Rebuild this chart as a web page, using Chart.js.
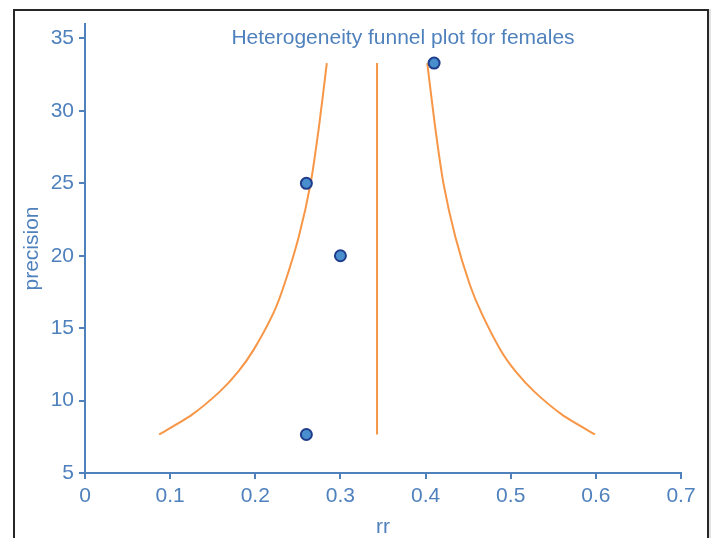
<!DOCTYPE html>
<html>
<head>
<meta charset="utf-8">
<title>Heterogeneity funnel plot for females</title>
<script src="https://cdn.jsdelivr.net/npm/chart.js@4/dist/chart.umd.min.js"></script>
<style>
    html, body { margin: 0; padding: 0; background: #fff; overflow: hidden; }
    #frame {
        position: absolute; left: 13px; top: 9px;
        width: 692px; height: 560px;
        border: 2px solid #262626;
        box-shadow: 2px 0 0 #e2e2e2;
    }
    #wrap { position: absolute; left: 0; top: 0; width: 712px; height: 538px; }
</style>
</head>
<body>
<div id="frame"></div>
<div id="wrap"><canvas id="chart" width="712" height="538"></canvas></div>
<script>
// Funnel-Grenzen
const precisionLevels = [7.66, 9, 10.6, 12, 13.5, 16, 18, 21.3, 25, 29, 33.3];
const lowerBound = [0.087, 0.125, 0.158, 0.180, 0.198, 0.221, 0.234, 0.251, 0.265, 0.275, 0.284];
const upperBound = [0.599, 0.561, 0.528, 0.506, 0.488, 0.466, 0.452, 0.435, 0.421, 0.411, 0.402];
const pooledRr = 0.343;

// Studien
const studyRr = [0.26, 0.30, 0.26, 0.41];
const studyPrecision = [7.66, 20, 25, 33.3];

const xTicks = [0, 0.1, 0.2, 0.3, 0.4, 0.5, 0.6, 0.7];
const yTicks = [5, 10, 15, 20, 25, 30, 35];

const BLUE = '#4f81bd';
const ORANGE = '#f79646';
const FONT = { family: 'Liberation Sans, Arial, sans-serif', size: 21 };

const toPoints = (xs, ys) => xs.map((x, i) => ({ x: x, y: ys[i] }));

const lineStyle = {
    type: 'line',
    showLine: true,
    borderColor: ORANGE,
    borderWidth: 2,
    pointRadius: 0,
    fill: false,
    tension: 0.2,
    order: 1
};

// Titel im Diagramm
const titlePlugin = {
    id: 'innerTitle',
    afterDraw(chart) {
        const ctx = chart.ctx;
        ctx.save();
        ctx.font = `${FONT.size}px ${FONT.family}`;
        ctx.fillStyle = BLUE;
        ctx.textAlign = 'center';
        ctx.textBaseline = 'middle';
        ctx.fillText('Heterogeneity funnel plot for females', 403, 38);
        ctx.restore();
    }
};

new Chart(document.getElementById('chart'), {
    type: 'scatter',
    data: {
        datasets: [
            Object.assign({ label: 'lower', data: toPoints(lowerBound, precisionLevels) }, lineStyle),
            Object.assign({ label: 'upper', data: toPoints(upperBound, precisionLevels) }, lineStyle),
            Object.assign({ label: 'pooled', data: [
                { x: pooledRr, y: precisionLevels[0] },
                { x: pooledRr, y: precisionLevels[precisionLevels.length - 1] }
            ] }, lineStyle),
            {
                label: 'studies',
                data: toPoints(studyRr, studyPrecision),
                backgroundColor: '#4a8fcd',
                borderColor: '#1f3d8c',
                borderWidth: 2,
                pointRadius: 5.5,
                order: 0
            }
        ]
    },
    options: {
        responsive: false,
        animation: false,
        layout: { padding: { left: 0, top: 24, right: 31, bottom: 0 } },
        plugins: { legend: { display: false }, tooltip: { enabled: false } },
        scales: {
            x: {
                type: 'linear',
                min: 0,
                max: 0.7,
                afterBuildTicks: s => { s.ticks = xTicks.map(v => ({ value: v })); },
                afterFit: s => { s.height = 65; },
                border: { color: BLUE, width: 2 },
                grid: { drawOnChartArea: false, drawTicks: true, tickLength: 6, color: BLUE, lineWidth: 2 },
                ticks: { color: BLUE, font: FONT, padding: 5, callback: v => String(v) },
                title: { display: true, text: 'rr', color: BLUE, font: Object.assign({ lineHeight: 1 }, FONT), padding: { top: 0, bottom: 0 } }
            },
            y: {
                type: 'linear',
                min: 5,
                max: 36,
                afterBuildTicks: s => { s.ticks = yTicks.map(v => ({ value: v })); },
                afterFit: s => { s.width = 85; },
                border: { color: BLUE, width: 2 },
                grid: { drawOnChartArea: false, drawTicks: true, tickLength: 6, color: BLUE, lineWidth: 2 },
                ticks: { color: BLUE, font: FONT, padding: 5 },
                title: { display: true, text: 'precision', color: BLUE, font: FONT, padding: { top: 20, bottom: 0 } }
            }
        }
    },
    plugins: [titlePlugin]
});
</script>
</body>
</html>
